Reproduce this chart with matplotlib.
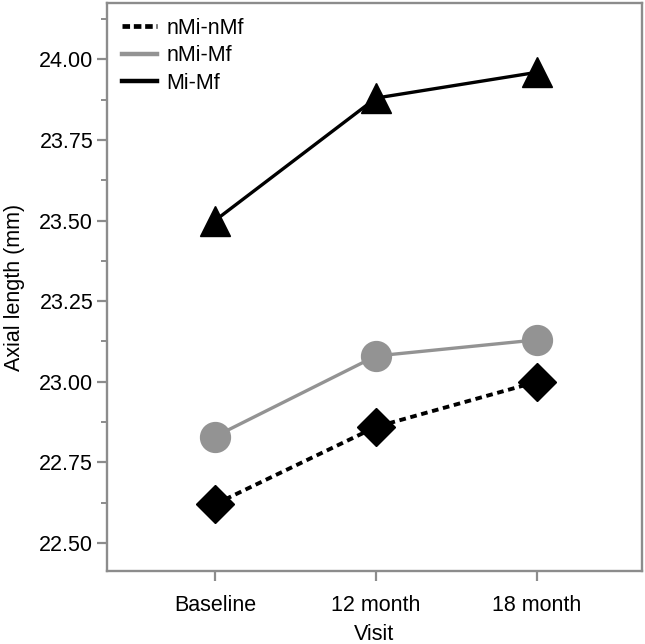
import numpy as np
import matplotlib.pyplot as plt
from matplotlib.ticker import MultipleLocator

plt.rcParams['font.family'] = ['Liberation Sans', 'DejaVu Sans']
plt.rcParams['font.size'] = 15.5

# data
visits = ['Baseline', '12 month', '18 month']
nmi_nmf = [22.62, 22.86, 23.00]
nmi_mf = [22.83, 23.08, 23.13]
mi_mf = [23.50, 23.88, 23.96]

spine_gray = '#8c8c8c'
gray = '#939393'

fig = plt.figure(figsize=(6.45, 6.44), dpi=100)
ax = fig.add_axes([0.166, 0.1134, 0.829, 0.882])

x = np.arange(len(visits))

# lines with markers
ax.plot(x, nmi_nmf, color='black', ls=(0, (1.7, 1.2)), lw=2.8,
        marker='D', ms=19, mfc='black', mec='black', zorder=3)
ax.plot(x, nmi_mf, color=gray, ls='-', lw=2.4,
        marker='o', ms=21.5, mfc=gray, mec=gray, zorder=3)
ax.plot(x, mi_mf, color='black', ls='-', lw=2.4,
        marker='^', ms=21, mfc='black', mec='black', zorder=3)

# legend shows lines only
h1, = ax.plot([], [], color='black', ls=(0, (1.6, 0.8)), lw=3.4)
h2, = ax.plot([], [], color=gray, ls='-', lw=3.2)
h3, = ax.plot([], [], color='black', ls='-', lw=3.2)
ax.legend([h1, h2, h3], ['nMi-nMf', 'nMi-Mf', 'Mi-Mf'], loc='upper left',
          frameon=False, handlelength=1.6, handletextpad=0.45,
          labelspacing=0.3, borderaxespad=0.3, fontsize=15.5)

ax.set_xlim(-0.67, 2.65)
ax.set_ylim(22.413, 24.175)
ax.set_xticks(x)
ax.set_xticklabels(visits)
ax.yaxis.set_major_locator(MultipleLocator(0.25))
ax.yaxis.set_minor_locator(MultipleLocator(0.125))
ax.yaxis.set_major_formatter(plt.FormatStrFormatter('%.2f'))

for s in ax.spines.values():
    s.set_color(spine_gray)
    s.set_linewidth(1.7)

ax.tick_params(axis='both', which='major', length=7, width=1.6,
               color=spine_gray, labelcolor='black')
ax.tick_params(axis='y', which='major', pad=3)
ax.tick_params(axis='x', which='major', pad=10.5)
ax.tick_params(axis='y', which='minor', length=4.5, width=1.4, color=spine_gray)

ax.set_xlabel('Visit', labelpad=5.5)
ax.set_ylabel('Axial length (mm)', labelpad=10)

fig.savefig('out.png', dpi=100)
